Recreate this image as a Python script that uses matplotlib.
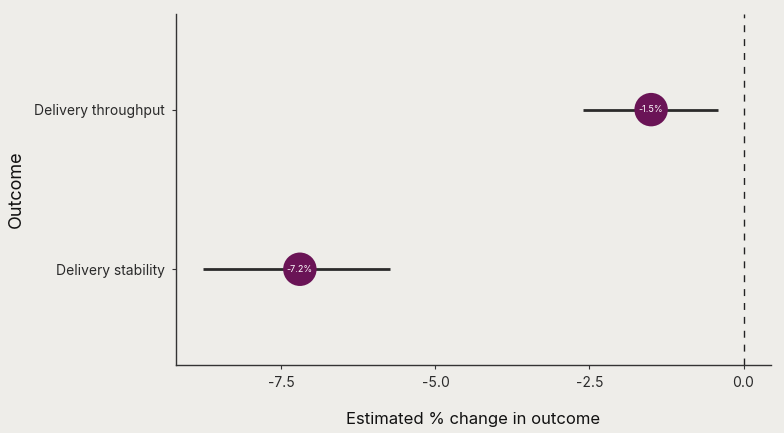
import matplotlib
matplotlib.use("Agg")
import matplotlib.pyplot as plt

# data
outcomes = ["Delivery stability", "Delivery throughput"]
estimates = [-7.2, -1.5]
ci_low = [-8.78, -2.61]
ci_high = [-5.73, -0.42]
point_labels = ["-7.2%", "-1.5%"]

bg = "#eeede9"
purple = "#6a1456"

plt.rcParams["font.family"] = ["Inter", "DejaVu Sans"]

fig = plt.figure(figsize=(7.84, 4.33), dpi=100, facecolor=bg)
ax = fig.add_axes([0.2245, 0.157, 0.7585, 0.811])
ax.set_facecolor(bg)

ypos = list(range(len(outcomes)))
ax.hlines(ypos, ci_low, ci_high, color="#2b2b2b", lw=2, zorder=2)
ax.scatter(estimates, ypos, s=580, color=purple, zorder=3, edgecolors="none")
for x, y, t in zip(estimates, ypos, point_labels):
    ax.text(x, y, t, color="white", fontsize=6.5, ha="center", va="center", zorder=4)

ax.axvline(0, color="#222222", lw=1, ls=(0, (5, 5)), zorder=1)

ax.set_xlim(-9.21, 0.44)
ax.set_ylim(-0.6, 1.6)
ax.set_yticks(ypos)
ax.set_yticklabels(outcomes, fontsize=10, color="#2a2a2a")
ax.set_xticks([-7.5, -5.0, -2.5, 0.0])
ax.set_xticklabels(["-7.5", "-5.0", "-2.5", "0.0"], fontsize=10, color="#2a2a2a")
ax.tick_params(axis="both", length=3, color="#333333")
ax.tick_params(axis="x", pad=5)
ax.tick_params(axis="y", pad=5)

for s in ["top", "right"]:
    ax.spines[s].set_visible(False)
for s in ["left", "bottom"]:
    ax.spines[s].set_color("#333333")
    ax.spines[s].set_linewidth(1)

ax.set_xlabel("Estimated % change in outcome", fontsize=12, color="#111111", labelpad=16)
ax.set_ylabel("Outcome", fontsize=13, color="#111111", labelpad=7)

fig.savefig("out.png", dpi=100, facecolor=bg)
